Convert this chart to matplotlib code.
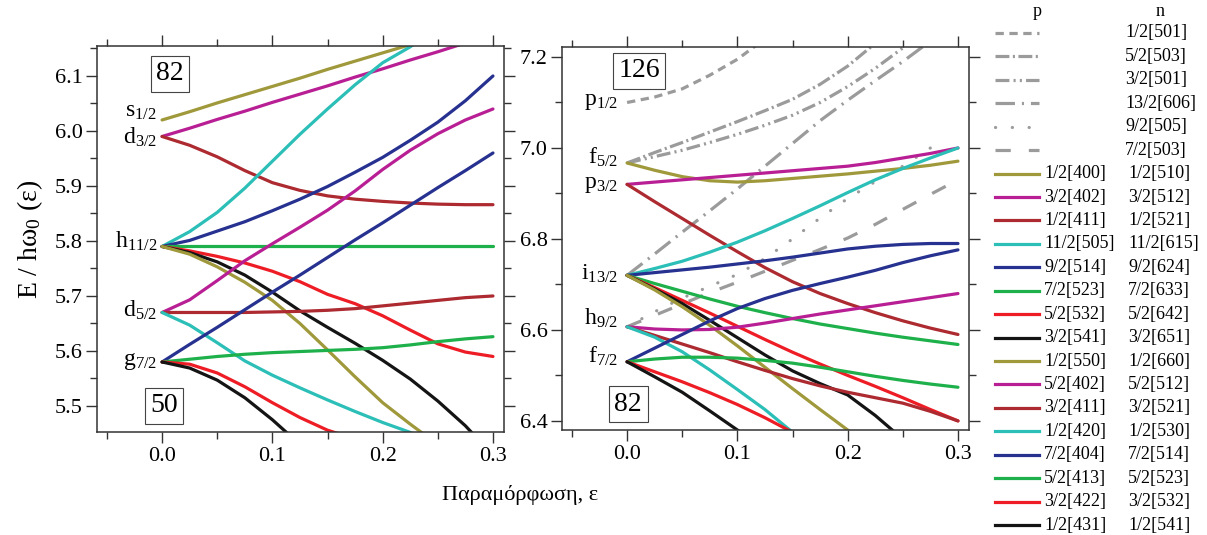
import numpy as np
import matplotlib
matplotlib.use('Agg')
import matplotlib.pyplot as plt
from matplotlib.ticker import MultipleLocator, FormatStrFormatter

plt.rcParams['font.family'] = 'serif'
plt.rcParams['font.serif'] = ['Liberation Serif', 'DejaVu Serif']
plt.rcParams['mathtext.fontset'] = 'custom'
plt.rcParams['mathtext.rm'] = 'Liberation Serif'
plt.rcParams['mathtext.it'] = 'Liberation Serif:italic'
plt.rcParams['lines.scale_dashes'] = False

nan = np.nan
eps = [0, 0.025, 0.05, 0.075, 0.1, 0.125, 0.15, 0.175, 0.2, 0.225, 0.25, 0.275, 0.3]

# protons (left panel), E / hw0 on the eps grid
p_400 = [6.020, 6.035, 6.051, 6.066, 6.081, 6.096, 6.112, 6.127, 6.142, 6.157, 6.173, nan, nan]
p_402 = [5.990, 6.005, 6.021, 6.036, 6.052, 6.067, 6.082, 6.098, 6.113, 6.129, 6.144, 6.160, nan]
p_411 = [5.990, 5.974, 5.953, 5.928, 5.906, 5.892, 5.882, 5.876, 5.872, 5.869, 5.867, 5.866, 5.866]
p_505 = [5.790, 5.817, 5.852, 5.896, 5.945, 5.994, 6.040, 6.084, 6.124, 6.153, 6.190, nan, nan]
p_514 = [5.790, 5.801, 5.818, 5.835, 5.855, 5.876, 5.899, 5.925, 5.952, 5.983, 6.016, 6.055, 6.100]
p_523 = [5.790] * 13
p_532 = [5.790, 5.782, 5.772, 5.760, 5.745, 5.726, 5.703, 5.686, 5.664, 5.638, 5.613, 5.598, 5.590]
p_541 = [5.790, 5.779, 5.762, 5.738, 5.707, 5.673, 5.643, 5.614, 5.583, 5.549, 5.509, 5.464, 5.410]
p_550 = [5.790, 5.776, 5.753, 5.725, 5.692, 5.650, 5.602, 5.553, 5.506, 5.467, 5.430, nan, nan]
p_402b = [5.670, 5.693, 5.728, 5.764, 5.795, 5.825, 5.856, 5.891, 5.930, 5.965, 5.995, 6.020, 6.040]
p_411b = [5.670, 5.670, 5.670, 5.670, 5.671, 5.672, 5.674, 5.677, 5.682, 5.687, 5.692, 5.697, 5.700]
p_420 = [5.670, 5.647, 5.615, 5.582, 5.556, 5.533, 5.511, 5.490, 5.470, 5.452, 5.430, nan, nan]
p_404 = [5.580, 5.612, 5.643, 5.675, 5.707, 5.738, 5.770, 5.802, 5.833, 5.865, 5.897, 5.928, 5.960]
p_413 = [5.580, 5.585, 5.590, 5.594, 5.597, 5.599, 5.601, 5.603, 5.606, 5.611, 5.617, 5.622, 5.626]
p_422 = [5.580, 5.576, 5.560, 5.535, 5.506, 5.479, 5.456, 5.440, nan, nan, nan, nan, nan]
p_431 = [5.580, 5.569, 5.547, 5.515, 5.475, 5.430, nan, nan, nan, nan, nan, nan, nan]

# neutrons (right panel)
n_501a = [7.100, 7.112, 7.130, 7.160, 7.195, 7.240, nan, nan, nan, nan, nan, nan, nan]
n_503a = [6.967, 6.990, 7.012, 7.035, 7.058, 7.082, 7.107, 7.140, 7.180, 7.230, nan, nan, nan]
n_501b = [6.967, 6.981, 6.995, 7.012, 7.030, 7.050, 7.072, 7.100, 7.135, 7.175, 7.220, 7.270, nan]
n_606 = [6.720, 6.767, 6.815, 6.862, 6.910, 6.960, 7.010, 7.060, 7.105, 7.148, 7.190, 7.235, nan]
n_505 = [6.607, 6.640, 6.670, 6.696, 6.722, 6.757, 6.800, 6.846, 6.889, 6.926, 6.960, 7.000, nan]
n_503b = [6.607, 6.632, 6.657, 6.682, 6.705, 6.729, 6.753, 6.777, 6.802, 6.832, 6.865, 6.898, 6.930]

n_510 = [6.967, 6.951, 6.937, 6.928, 6.925, 6.928, 6.933, 6.938, 6.943, 6.949, 6.955, 6.962, 6.971]
n_512 = [6.920, 6.925, 6.930, 6.935, 6.940, 6.945, 6.950, 6.955, 6.960, 6.968, 6.978, 6.988, 7.000]
n_521 = [6.920, 6.882, 6.845, 6.808, 6.772, 6.737, 6.706, 6.680, 6.658, 6.638, 6.620, 6.604, 6.590]
n_615 = [6.720, 6.735, 6.751, 6.771, 6.793, 6.818, 6.845, 6.873, 6.902, 6.930, 6.955, 6.978, 7.000]
n_624 = [6.720, 6.726, 6.732, 6.738, 6.745, 6.752, 6.760, 6.769, 6.778, 6.784, 6.788, 6.790, 6.790]
n_633 = [6.720, 6.702, 6.685, 6.668, 6.652, 6.638, 6.625, 6.613, 6.603, 6.593, 6.584, 6.576, 6.568]
n_642 = [6.720, 6.693, 6.665, 6.637, 6.608, 6.579, 6.551, 6.525, 6.500, 6.476, 6.451, 6.425, 6.400]
n_651 = [6.720, 6.690, 6.658, 6.621, 6.583, 6.545, 6.510, 6.482, 6.457, 6.412, 6.360, nan, nan]
n_660 = [6.720, 6.688, 6.651, 6.610, 6.565, 6.518, 6.471, 6.425, 6.380, 6.335, nan, nan, nan]
n_512b = [6.607, 6.602, 6.600, 6.601, 6.606, 6.615, 6.625, 6.635, 6.644, 6.653, 6.662, 6.671, 6.680]
n_521b = [6.607, 6.588, 6.569, 6.550, 6.530, 6.511, 6.493, 6.477, 6.463, 6.451, 6.439, 6.421, 6.400]
n_530 = [6.607, 6.584, 6.552, 6.512, 6.469, 6.425, 6.375, nan, nan, nan, nan, nan, nan]
n_514 = [6.530, 6.560, 6.590, 6.620, 6.647, 6.669, 6.687, 6.702, 6.716, 6.731, 6.748, 6.763, 6.776]
n_523 = [6.530, 6.536, 6.540, 6.540, 6.538, 6.533, 6.527, 6.518, 6.508, 6.498, 6.489, 6.481, 6.474]
n_532 = [6.530, 6.508, 6.486, 6.462, 6.436, 6.407, 6.375, nan, nan, nan, nan, nan, nan]
n_541 = [6.530, 6.497, 6.463, 6.422, 6.380, 6.340, nan, nan, nan, nan, nan, nan, nan]

p_labels = ['1/2[400]', '3/2[402]', '1/2[411]', '11/2[505]', '9/2[514]', '7/2[523]',
            '5/2[532]', '3/2[541]', '1/2[550]', '5/2[402]', '3/2[411]', '1/2[420]',
            '7/2[404]', '5/2[413]', '3/2[422]', '1/2[431]']
n_labels = ['1/2[510]', '3/2[512]', '1/2[521]', '11/2[615]', '9/2[624]', '7/2[633]',
            '5/2[642]', '3/2[651]', '1/2[660]', '5/2[512]', '3/2[521]', '1/2[530]',
            '7/2[514]', '5/2[523]', '3/2[532]', '1/2[541]']
gray_labels = ['1/2[501]', '5/2[503]', '3/2[501]', '13/2[606]', '9/2[505]', '7/2[503]']

left_levels = [('s', '1/2', 6.020, 3), ('d', '3/2', 5.990, -7), ('h', '11/2', 5.790, -1),
               ('d', '5/2', 5.670, -4), ('g', '7/2', 5.580, -3)]
right_levels = [('p', '1/2', 7.100, -3), ('f', '5/2', 6.967, -1), ('p', '3/2', 6.920, -4),
                ('i', '13/2', 6.720, -4), ('h', '9/2', 6.607, 2), ('f', '7/2', 6.530, -1)]

colors = ['#a0993b', '#b91f94', '#ac2a30', '#2cbfb8', '#263190', '#1eb04b', '#ee1d25', '#141414'] * 2
gray = '#9b9b9b'
gray_styles = [(0, (6, 4)),
               (0, (10, 2.5, 1.5, 2.5)),
               (0, (10, 3, 1.5, 3, 1.5, 3)),
               (0, (14, 5, 1.5, 5)),
               (0, (0.1, 12)),
               (0, (11, 13))]

p_curves = [p_400, p_402, p_411, p_505, p_514, p_523, p_532, p_541,
            p_550, p_402b, p_411b, p_420, p_404, p_413, p_422, p_431]
n_curves = [n_510, n_512, n_521, n_615, n_624, n_633, n_642, n_651,
            n_660, n_512b, n_521b, n_530, n_514, n_523, n_532, n_541]
gray_curves = [n_501a, n_503a, n_501b, n_606, n_505, n_503b]

W, H = 1207, 535
fig = plt.figure(figsize=(W / 100, H / 100), dpi=100)
ax1 = fig.add_axes([97 / W, 1 - 432 / H, 407 / W, 386 / H])
ax2 = fig.add_axes([562 / W, 1 - 430 / H, 407 / W, 383 / H])

LW = 2.3


def style(ax, ymaj, ymin):
    ax.set_xlim(-0.059, 0.31)
    ax.xaxis.set_major_locator(MultipleLocator(0.1))
    ax.xaxis.set_minor_locator(MultipleLocator(0.05))
    ax.yaxis.set_major_locator(MultipleLocator(ymaj))
    ax.yaxis.set_minor_locator(MultipleLocator(ymin))
    ax.xaxis.set_major_formatter(FormatStrFormatter('%.1f'))
    ax.yaxis.set_major_formatter(FormatStrFormatter('%.1f'))
    ax.tick_params(which='both', direction='out', top=True, right=True,
                   labelsize=16, width=1.0, color='#333333', pad=2.5)
    ax.tick_params(which='major', length=8)
    ax.tick_params(which='minor', length=5)
    for s in ax.spines.values():
        s.set_linewidth(1.1)
        s.set_color('#333333')


# left: protons
for c, col in zip(p_curves, colors):
    ax1.plot(eps, c, color=col, lw=LW, solid_capstyle='round', solid_joinstyle='round')
style(ax1, 0.1, 0.05)
ax1.set_ylim(5.4527, 6.1545)
for sym, j, e, dy in left_levels:
    ax1.annotate(r'$\mathregular{%s_{%s}}$' % (sym, j), xy=(0, e), xytext=(-5, dy),
                 textcoords='offset pixels', ha='right', va='baseline', fontsize=17)
box = dict(boxstyle='square,pad=0.2', fc='white', ec='#444444', lw=0.8)
ax1.text(0.0073, 6.104, '82', ha='center', va='center', fontsize=20, bbox=box, zorder=5)
ax1.text(0.0018, 5.500, '50', ha='center', va='center', fontsize=20, bbox=box, zorder=5)

# right: neutrons
for c, ls in zip(gray_curves, gray_styles):
    cap = 'round' if ls[1][0] < 1 else 'butt'
    ax2.plot(eps, c, color=gray, lw=LW, linestyle=ls, dash_capstyle=cap)
for c, col in zip(n_curves, colors):
    ax2.plot(eps, c, color=col, lw=LW, solid_capstyle='round', solid_joinstyle='round')
style(ax2, 0.2, 0.1)
ax2.set_ylim(6.380, 7.222)
for sym, j, e, dy in right_levels:
    ax2.annotate(r'$\mathregular{%s_{%s}}$' % (sym, j), xy=(0, e), xytext=(-9, dy),
                 textcoords='offset pixels', ha='right', va='baseline', fontsize=17)
ax2.text(0.0109, 7.170, '126', ha='center', va='center', fontsize=20, bbox=box, zorder=5)
ax2.text(0.001, 6.437, '82', ha='center', va='center', fontsize=20, bbox=box, zorder=5)

fig.text(30 / W, 1 - 239 / H, r'E / h$\mathregular{\omega_0}$ (ε)', rotation=90,
         ha='center', va='center', fontsize=20)
fig.text(520 / W, 1 - 495 / H, 'Παραμόρφωση, ε', ha='center', va='center', fontsize=16)

# legend, drawn in pixel coordinates
lax = fig.add_axes([985 / W, 0, 222 / W, 1])
lax.set_xlim(985, W)
lax.set_ylim(H, 0)
lax.axis('off')
lax.text(1037, 12, 'p', ha='center', va='center', fontsize=13)
lax.text(1160, 12, 'n', ha='center', va='center', fontsize=13)
row = 0
for lab, ls in zip(gray_labels, gray_styles):
    y = 33 + 23.43 * row
    cap = 'round' if ls[1][0] < 1 else 'butt'
    lax.plot([995, 1039], [y, y], color=gray, lw=LW, linestyle=ls, dash_capstyle=cap)
    lax.text(1125, y, lab, ha='left', va='center', fontsize=13)
    row += 1
for pl, nl, col in zip(p_labels, n_labels, colors):
    y = 33 + 23.43 * row
    lax.plot([995, 1039], [y, y], color=col, lw=LW)
    lax.text(1044, y, pl, ha='left', va='center', fontsize=13)
    lax.text(1128, y, nl, ha='left', va='center', fontsize=13)
    row += 1

fig.savefig('out.png', dpi=100)
